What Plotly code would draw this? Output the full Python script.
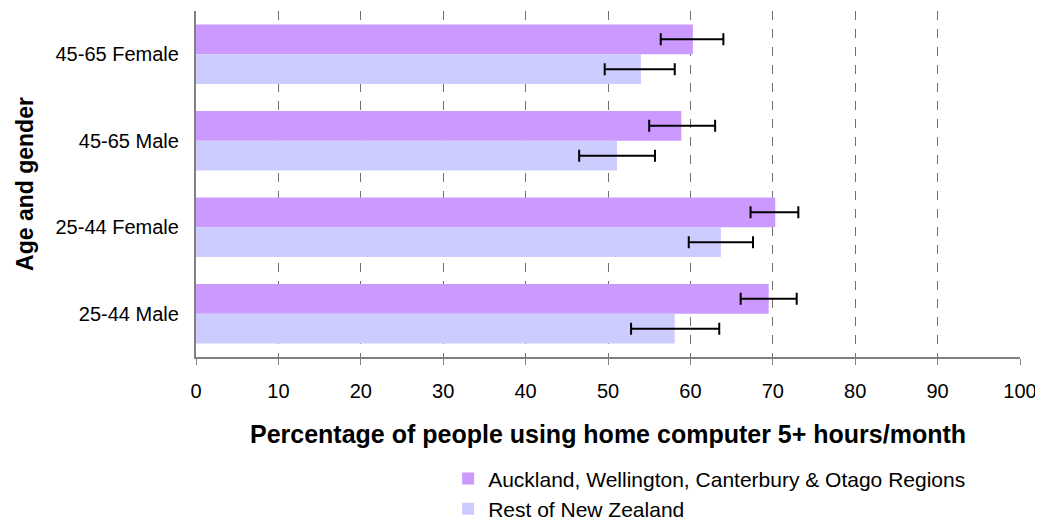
import plotly.graph_objects as go

# categories listed top to bottom as in the chart
groups = ["45-65 Female", "45-65 Male", "25-44 Female", "25-44 Male"]

main_regions = [60.3, 58.9, 70.3, 69.5]
main_lo = [56.4, 55.0, 67.3, 66.1]
main_hi = [64.0, 63.0, 73.1, 72.9]

rest_nz = [54.0, 51.1, 63.7, 58.1]
rest_lo = [49.6, 46.5, 59.8, 52.8]
rest_hi = [58.1, 55.7, 67.6, 63.5]


def err(vals, lo, hi):
    return dict(
        type="data", symmetric=False,
        array=[h - v for v, h in zip(vals, hi)],
        arrayminus=[v - l for v, l in zip(vals, lo)],
        color="black", thickness=2, width=6,
    )


fig = go.Figure()
fig.add_trace(go.Bar(
    y=groups, x=main_regions, orientation="h",
    name="Auckland, Wellington, Canterbury & Otago Regions",
    marker=dict(color="#CC99FF", line=dict(width=0)),
    error_x=err(main_regions, main_lo, main_hi),
))
fig.add_trace(go.Bar(
    y=groups, x=rest_nz, orientation="h",
    name="Rest of New Zealand",
    marker=dict(color="#CCCCFF", line=dict(width=0)),
    error_x=err(rest_nz, rest_lo, rest_hi),
))

# page body adds an 8px margin, so shift left/top margins accordingly
fig.update_layout(
    width=1043, height=524,
    margin=dict(l=188, r=31, t=3, b=168),
    paper_bgcolor="white", plot_bgcolor="white",
    font=dict(family="Liberation Sans, Arial, sans-serif", size=20, color="black"),
    barmode="group", bargap=0.31, bargroupgap=0,
    showlegend=True,
    legend=dict(
        x=0.306, y=-0.293, xanchor="left", yanchor="top",
        font=dict(size=21), tracegroupgap=0, itemwidth=30,
    ),
)

fig.update_xaxes(
    range=[0, 100], tickvals=list(range(0, 101, 10)),
    showgrid=True, gridcolor="#707070", griddash="dash", gridwidth=1,
    showline=True, linecolor="#808080", linewidth=2,
    ticks="outside", ticklen=6, tickcolor="#808080",
    ticklabelstandoff=9,
    zeroline=False,
    title=dict(text="<b>Percentage of people using home computer 5+ hours/month</b>",
               font=dict(size=25), standoff=24),
)
fig.update_yaxes(
    autorange="reversed",
    showline=True, linecolor="#808080", linewidth=2,
    ticks="", showgrid=False,
    ticksuffix="  ",
    title=dict(text="<b>Age and gender</b>", font=dict(size=23), standoff=15),
)

fig.write_html("out.html")
